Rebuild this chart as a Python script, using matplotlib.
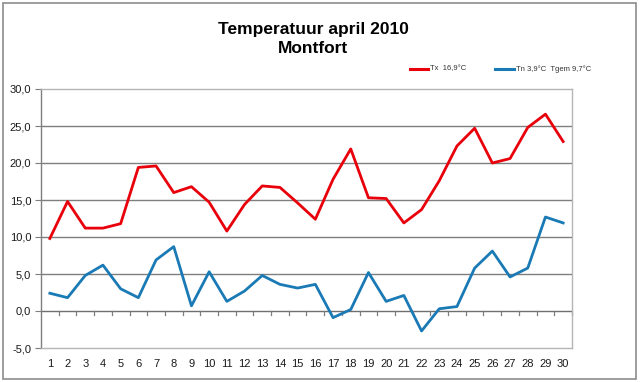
import matplotlib
matplotlib.use("Agg")
import matplotlib.pyplot as plt
from matplotlib.patches import Rectangle

plt.rcParams['font.family'] = ['Liberation Sans', 'DejaVu Sans']

days = list(range(1, 31))
tx = [9.8, 14.8, 11.2, 11.2, 11.8, 19.4, 19.6, 16.0, 16.8, 14.7,
      10.8, 14.4, 16.9, 16.7, 14.6, 12.4, 17.8, 21.9, 15.3, 15.2,
      11.9, 13.7, 17.6, 22.3, 24.7, 20.0, 20.6, 24.8, 26.6, 22.9]
tn = [2.4, 1.8, 4.8, 6.2, 3.0, 1.8, 6.9, 8.7, 0.7, 5.3,
      1.3, 2.7, 4.8, 3.6, 3.1, 3.6, -0.9, 0.2, 5.2, 1.3,
      2.1, -2.7, 0.3, 0.6, 5.8, 8.1, 4.6, 5.8, 12.7, 11.9]
yticks = [-5, 0, 5, 10, 15, 20, 25, 30]
title = "Temperatuur april 2010\nMontfort"
label_tx = "Tx  16,9°C"
label_tn = "Tn 3,9°C  Tgem 9,7°C"

W, H = 640, 382
fig = plt.figure(figsize=(W / 100, H / 100), dpi=100)

# outer border
fig.patches.append(Rectangle((3 / W, 3 / H), (636 - 3) / W, (379 - 3) / H,
                             transform=fig.transFigure, fill=False,
                             edgecolor='#8c8c8c', linewidth=1.2))

left, right, top, bottom = 41, 572, 89, 348
ax = fig.add_axes([left / W, 1 - bottom / H, (right - left) / W, (bottom - top) / H])
ax.set_xlim(0.5, 30.5)
ax.set_ylim(-5, 30)

for y in [5, 10, 15, 20, 25]:
    ax.axhline(y, color='#7f7f7f', linewidth=1.0, zorder=1)
ax.axhline(0, color='#6f6f6f', linewidth=1.0, zorder=1)

ax.plot(days, tx, color='#e8000b', linewidth=2.0, zorder=3, label=label_tx)
ax.plot(days, tn, color='#1a7ab5', linewidth=2.0, zorder=3, label=label_tn)

for s in ['top', 'right', 'bottom']:
    ax.spines[s].set_color('#b5b5b5')
    ax.spines[s].set_linewidth(1.0)
ax.spines['left'].set_color('#7f7f7f')
ax.spines['left'].set_linewidth(1.0)

ax.set_yticks(yticks)
ax.set_yticklabels([f"{v:.1f}".replace('.', ',') for v in yticks])
ax.tick_params(axis='y', direction='out', length=4, color='#7f7f7f',
               labelsize=8, pad=3, labelcolor='#1a1a1a')

ax.set_xticks(days)
ax.set_xticklabels([str(d) for d in days])
ax.tick_params(axis='x', length=0, labelsize=8, pad=8, labelcolor='#1a1a1a')
# tick marks below the zero line, between categories
for b in range(1, 31):
    ax.plot([b + 0.5, b + 0.5], [0, -0.6], color='#7f7f7f', linewidth=0.9,
            zorder=2, clip_on=False)

fig.text(313 / W, 1 - 39 / H, title, ha='center', va='center',
         fontsize=12.5, fontweight='bold', linespacing=1.3)

# legend
fig.lines.append(plt.Line2D([410 / W, 428 / W], [1 - 69 / H, 1 - 69 / H],
                            transform=fig.transFigure, color='#e8000b', linewidth=2.2))
fig.text(430 / W, 1 - 69 / H, label_tx, fontsize=5.5, va='center', ha='left', color='#333333')
fig.lines.append(plt.Line2D([495 / W, 514 / W], [1 - 69 / H, 1 - 69 / H],
                            transform=fig.transFigure, color='#1a7ab5', linewidth=2.2))
fig.text(516 / W, 1 - 69 / H, label_tn, fontsize=5.5, va='center', ha='left', color='#333333')

fig.savefig("out.png", dpi=100)
